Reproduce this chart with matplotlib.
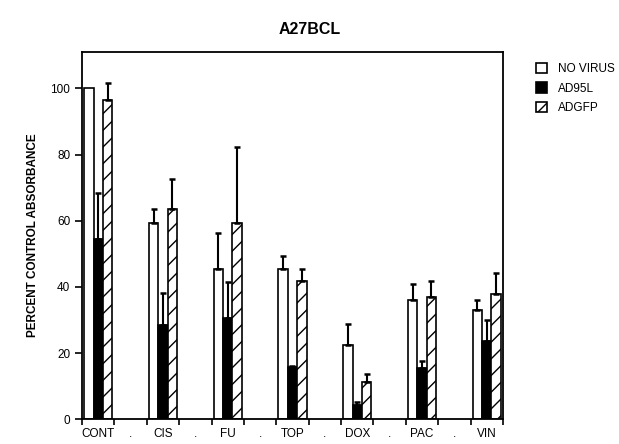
import matplotlib
matplotlib.use("Agg")
import matplotlib.pyplot as plt
from matplotlib.patches import Patch
import numpy as np

plt.rcParams['font.family'] = ['Liberation Sans', 'DejaVu Sans']
plt.rcParams['hatch.linewidth'] = 1.0

categories = ["CONT", "CIS", "FU", "TOP", "DOX", "PAC", "VIN"]
series = ["NO VIRUS", "AD95L", "ADGFP"]
no_virus = [100, 59.3, 45.4, 45.4, 22.4, 36.0, 32.9]
no_virus_err = [0, 4.1, 11.0, 4.0, 6.3, 4.8, 3.3]
ad95l = [54.4, 28.4, 30.6, 15.7, 4.3, 15.6, 23.7]
ad95l_err = [14.1, 9.9, 10.9, 0.5, 0.9, 2.1, 6.2]
adgfp = [96.5, 63.4, 59.4, 41.7, 11.3, 37.0, 38.0]
adgfp_err = [5.1, 9.3, 22.9, 3.7, 2.3, 4.8, 6.2]
xtick_labels = ["CONT", ".", "CIS", ".", "FU", ".", "TOP", ".", "DOX", ".", "PAC", ".", "VIN"]
yticks = [0, 20, 40, 60, 80, 100]

fig = plt.figure(figsize=(6.19, 4.44), dpi=100)
ax = fig.add_axes([0.1325, 0.0556, 0.680, 0.8274])

centers = np.arange(len(categories)) * 2 + 0.5
w = 0.29
styles = [dict(facecolor='white', hatch=None),
          dict(facecolor='black', hatch=None),
          dict(facecolor='white', hatch='//')]
vals = [no_virus, ad95l, adgfp]
errs = [no_virus_err, ad95l_err, adgfp_err]
for i, (v, e, st) in enumerate(zip(vals, errs, styles)):
    x = centers + (i - 1) * w
    ax.bar(x, v, width=w, facecolor=st['facecolor'], edgecolor='black',
           hatch=st['hatch'], linewidth=1.2, zorder=2)
    for xi, vi, ei in zip(x, v, e):
        if ei > 0:
            ax.errorbar([xi], [vi], yerr=[[0], [ei]], fmt='none', ecolor='black',
                        elinewidth=1.5, capsize=2.5, capthick=1.8, zorder=3)

ax.set_xlim(0, 13)
ax.set_ylim(0, 111)
ax.set_xticks(np.arange(0, 14))
ax.set_xticklabels([])
ax.set_xticks(np.arange(0.5, 13, 1), minor=True)
ax.set_xticklabels(xtick_labels, minor=True, fontsize=8.5)
ax.tick_params(axis='x', which='minor', length=0, pad=6)
ax.tick_params(axis='x', which='major', length=4, width=1.2, direction='out')
ax.set_yticks(yticks)
ax.set_yticklabels([str(t) for t in yticks], fontsize=8.5)
ax.tick_params(axis='y', length=5, width=1.2, direction='out')
for s in ax.spines.values():
    s.set_linewidth(1.3)

ax.set_ylabel("PERCENT CONTROL ABSORBANCE", fontsize=8.5, fontweight='bold', labelpad=8)
fig.suptitle("A27BCL", x=0.5, y=0.95, fontsize=11.5, fontweight='bold')

handles = [Patch(facecolor='white', edgecolor='black', linewidth=1.2),
           Patch(facecolor='black', edgecolor='black', linewidth=1.2),
           Patch(facecolor='white', edgecolor='black', hatch='//', linewidth=1.2)]
fig.legend(handles, series, loc='upper left', bbox_to_anchor=(0.848, 0.883),
           frameon=False, fontsize=8.5, handlelength=1.0, handleheight=1.0,
           handletextpad=0.9, labelspacing=0.62)

fig.savefig("out.png", dpi=100)
